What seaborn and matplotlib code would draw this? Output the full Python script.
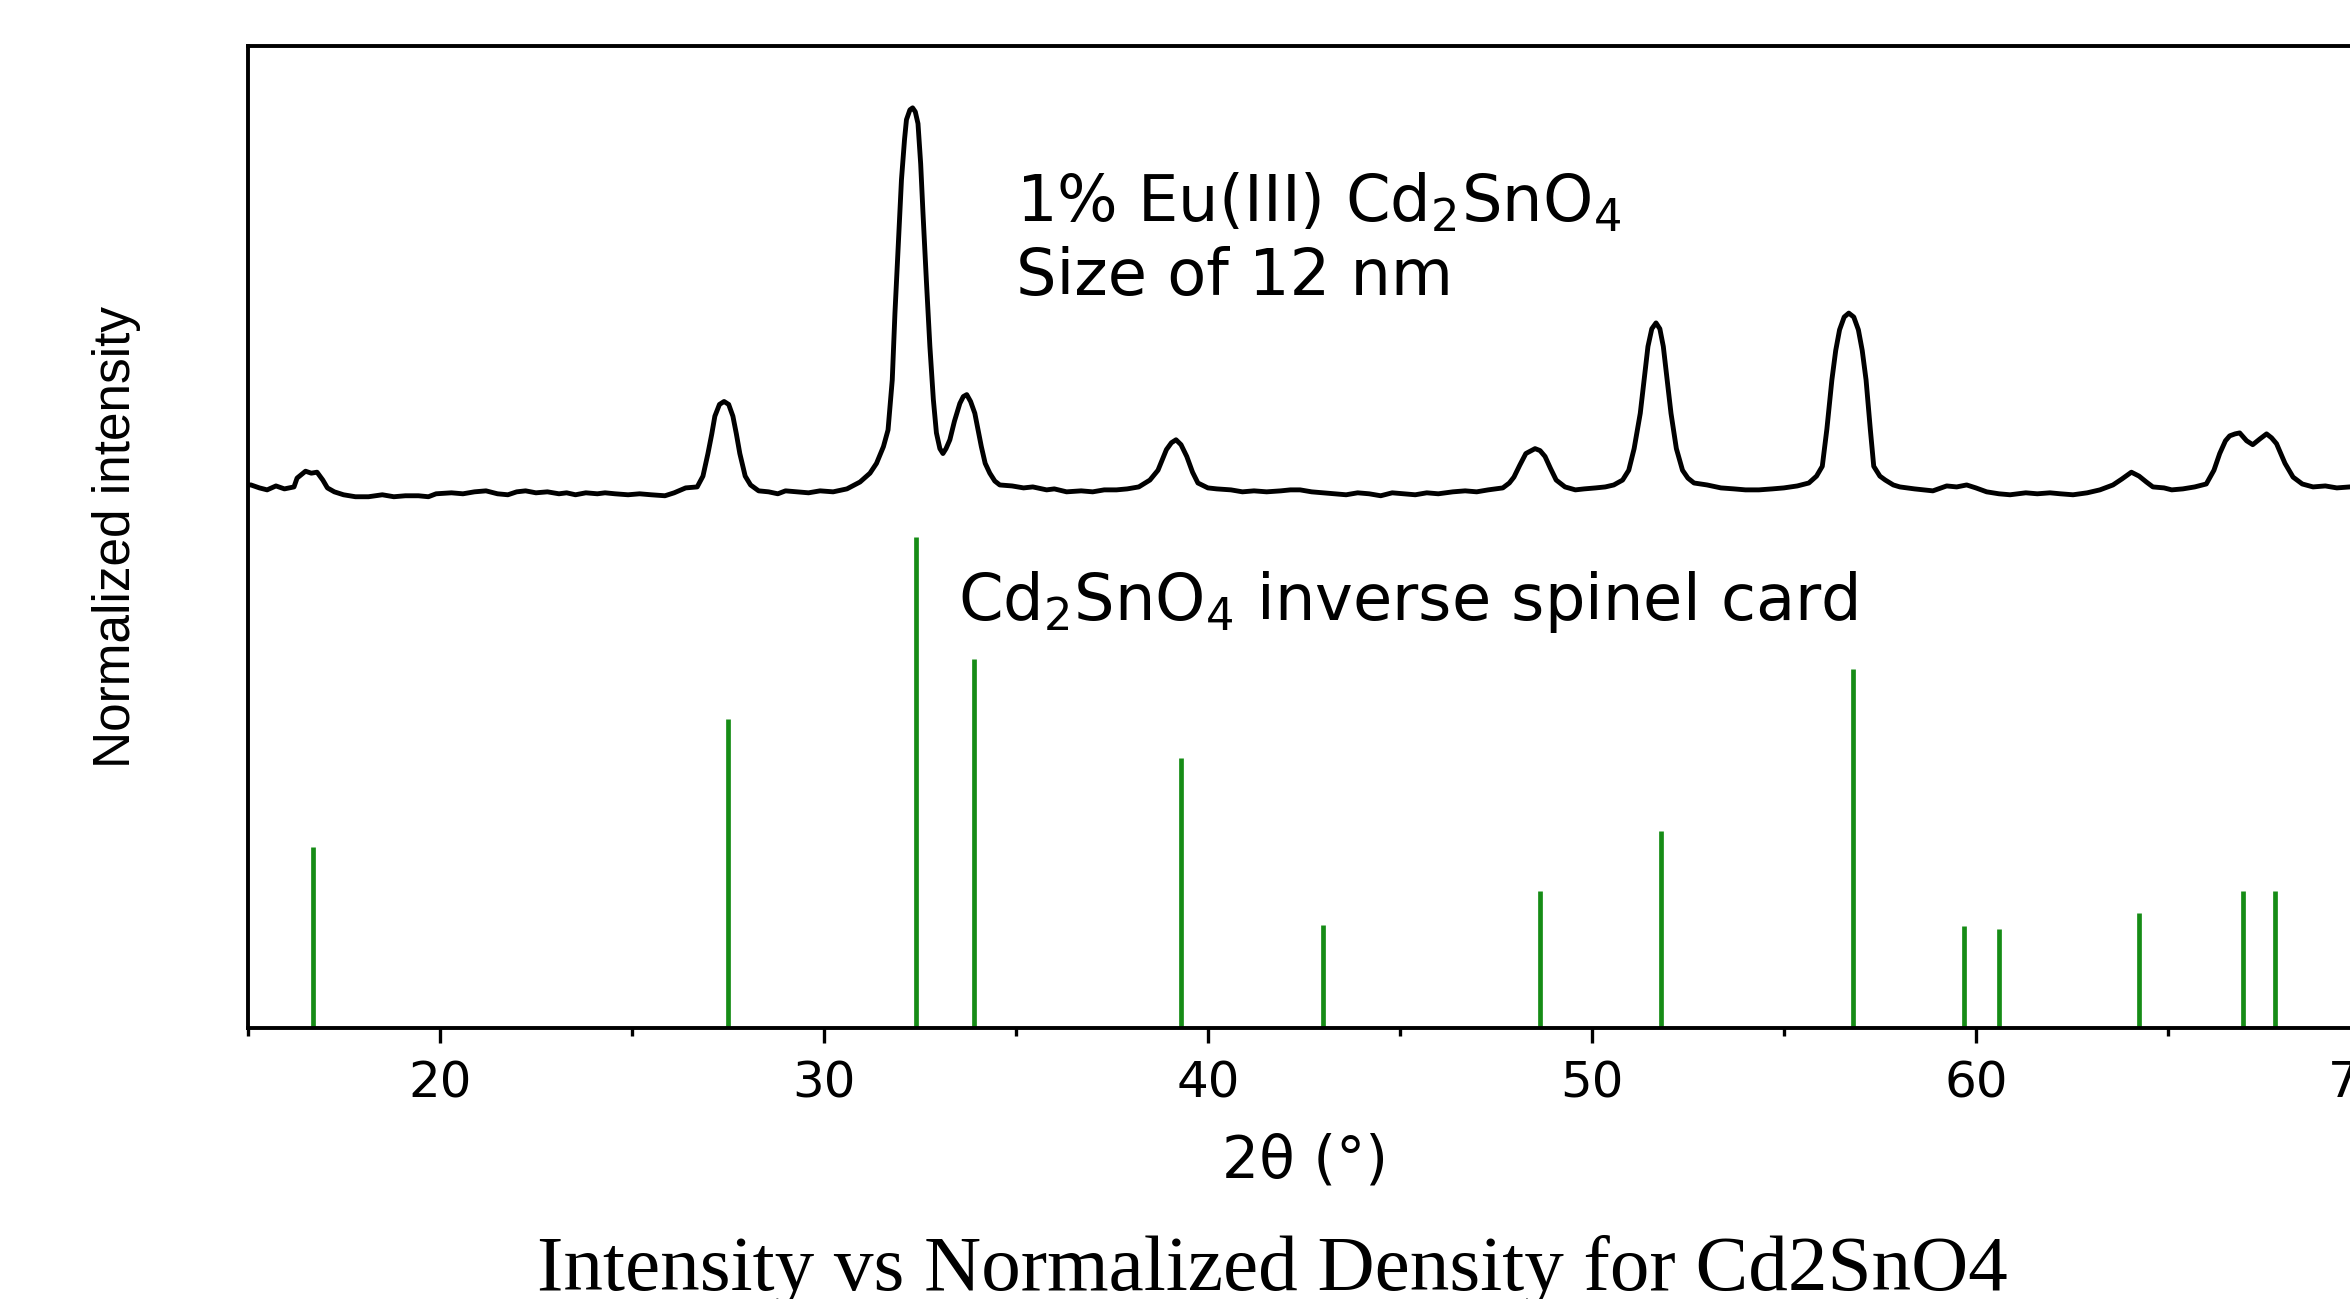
import matplotlib
matplotlib.use('Agg')
import matplotlib.pyplot as plt
from matplotlib.ticker import MultipleLocator
import seaborn as sns

# XRD pattern of 1% Eu(III) Cd2SnO4 (normalized units)
two_theta = [15.0, 15.08, 15.3, 15.5, 15.73, 15.95, 16.2, 16.28, 16.5, 16.65, 16.8, 16.95,
             17.07, 17.25, 17.49, 17.8, 18.14, 18.5, 18.8, 19.1, 19.44, 19.7, 19.9, 20.3,
             20.6, 20.9, 21.2, 21.5, 21.77, 22.0, 22.23, 22.5, 22.8, 23.1, 23.3, 23.53,
             23.8, 24.1, 24.3, 24.56, 24.9, 25.2, 25.5, 25.86, 26.1, 26.4, 26.7, 26.85,
             26.98, 27.08, 27.16, 27.28, 27.4, 27.52, 27.63, 27.72, 27.81, 27.95, 28.09, 28.3,
             28.56, 28.8, 29.0, 29.3, 29.6, 29.9, 30.24, 30.6, 30.94, 31.2, 31.37, 31.55,
             31.67, 31.78, 31.85, 31.94, 32.02, 32.1, 32.15, 32.24, 32.31, 32.38, 32.45, 32.52,
             32.58, 32.67, 32.76, 32.85, 32.93, 33.02, 33.1, 33.18, 33.28, 33.4, 33.54, 33.63,
             33.72, 33.82, 33.93, 34.02, 34.1, 34.2, 34.32, 34.45, 34.58, 34.9, 35.2, 35.44,
             35.8, 36.0, 36.32, 36.7, 37.0, 37.3, 37.62, 37.9, 38.2, 38.49, 38.7, 38.92,
             39.05, 39.17, 39.3, 39.45, 39.6, 39.74, 40.0, 40.23, 40.6, 40.9, 41.2, 41.53,
             41.9, 42.15, 42.4, 42.7, 43.0, 43.3, 43.6, 43.9, 44.2, 44.5, 44.8, 45.1,
             45.4, 45.7, 46.0, 46.38, 46.7, 47.0, 47.3, 47.68, 47.85, 47.97, 48.12, 48.28,
             48.52, 48.65, 48.78, 48.92, 49.07, 49.3, 49.57, 49.8, 50.1, 50.35, 50.57, 50.8,
             50.96, 51.1, 51.26, 51.36, 51.46, 51.56, 51.67, 51.77, 51.86, 51.96, 52.06, 52.2,
             52.36, 52.5, 52.66, 53.0, 53.36, 53.7, 54.0, 54.35, 54.7, 55.0, 55.35, 55.65,
             55.85, 56.0, 56.12, 56.25, 56.35, 56.45, 56.57, 56.69, 56.82, 56.94, 57.04, 57.14,
             57.25, 57.34, 57.5, 57.64, 57.85, 58.02, 58.4, 58.88, 59.24, 59.5, 59.76, 60.0,
             60.28, 60.6, 60.89, 61.3, 61.6, 61.93, 62.2, 62.53, 62.9, 63.23, 63.57, 63.8,
             64.05, 64.25, 64.44, 64.61, 64.9, 65.1, 65.39, 65.7, 66.0, 66.2, 66.35, 66.5,
             66.61, 66.75, 66.87, 67.05, 67.21, 67.4, 67.57, 67.7, 67.83, 68.05, 68.26, 68.5,
             68.78, 69.1, 69.4, 69.74, 70.2]
intensity = [0.553, 0.553, 0.550, 0.548, 0.552, 0.549, 0.551, 0.560, 0.567, 0.565, 0.566, 0.558,
             0.550, 0.546, 0.543, 0.541, 0.541, 0.543, 0.541, 0.542, 0.542, 0.541, 0.544, 0.545,
             0.544, 0.546, 0.547, 0.544, 0.543, 0.546, 0.547, 0.545, 0.546, 0.544, 0.545, 0.543,
             0.545, 0.544, 0.545, 0.544, 0.543, 0.544, 0.543, 0.542, 0.545, 0.550, 0.551, 0.562,
             0.585, 0.605, 0.623, 0.635, 0.638, 0.635, 0.623, 0.605, 0.585, 0.562, 0.553, 0.547,
             0.546, 0.544, 0.547, 0.546, 0.545, 0.547, 0.546, 0.549, 0.556, 0.565, 0.575, 0.592,
             0.609, 0.660, 0.728, 0.800, 0.864, 0.905, 0.925, 0.935, 0.937, 0.933, 0.921, 0.880,
             0.830, 0.760, 0.694, 0.640, 0.606, 0.590, 0.585, 0.590, 0.599, 0.618, 0.636, 0.643,
             0.645, 0.638, 0.626, 0.608, 0.592, 0.575, 0.565, 0.557, 0.553, 0.552, 0.550, 0.551,
             0.548, 0.549, 0.546, 0.547, 0.546, 0.548, 0.548, 0.549, 0.551, 0.558, 0.568, 0.589,
             0.596, 0.599, 0.594, 0.582, 0.566, 0.555, 0.550, 0.549, 0.548, 0.546, 0.547, 0.546,
             0.547, 0.548, 0.548, 0.546, 0.545, 0.544, 0.543, 0.545, 0.544, 0.542, 0.545, 0.544,
             0.543, 0.545, 0.544, 0.546, 0.547, 0.546, 0.548, 0.550, 0.555, 0.561, 0.573, 0.585,
             0.590, 0.588, 0.582, 0.570, 0.558, 0.551, 0.548, 0.549, 0.550, 0.551, 0.553, 0.558,
             0.568, 0.590, 0.626, 0.660, 0.694, 0.712, 0.718, 0.712, 0.694, 0.660, 0.626, 0.590,
             0.568, 0.560, 0.555, 0.553, 0.550, 0.549, 0.548, 0.548, 0.549, 0.550, 0.552, 0.555,
             0.562, 0.572, 0.610, 0.660, 0.690, 0.711, 0.724, 0.728, 0.724, 0.711, 0.690, 0.660,
             0.610, 0.572, 0.562, 0.558, 0.553, 0.551, 0.549, 0.547, 0.552, 0.551, 0.553, 0.550,
             0.546, 0.544, 0.543, 0.545, 0.544, 0.545, 0.544, 0.543, 0.545, 0.548, 0.553, 0.559,
             0.566, 0.562, 0.556, 0.551, 0.550, 0.548, 0.549, 0.551, 0.554, 0.568, 0.585, 0.598,
             0.603, 0.605, 0.606, 0.598, 0.594, 0.600, 0.605, 0.601, 0.595, 0.575, 0.561, 0.554,
             0.551, 0.552, 0.550, 0.551, 0.550]

# Cd2SnO4 inverse spinel reference card (stick positions / relative heights)
card_pos = [16.7, 27.5, 32.4, 33.9, 39.3, 43.0, 48.65, 51.8, 56.8, 59.7, 60.6, 64.25, 66.95, 67.8]
card_int = [0.184, 0.315, 0.500, 0.376, 0.275, 0.105, 0.140, 0.201, 0.366, 0.104, 0.101, 0.117,
            0.140, 0.140]

x_ticks = [20, 30, 40, 50, 60, 70]

sns.set_theme(style='ticks')
plt.rcParams['font.family'] = ['DejaVu Sans']
plt.rcParams['mathtext.default'] = 'regular'
plt.rcParams['text.color'] = 'black'
plt.rcParams['axes.labelcolor'] = 'black'

fig = plt.figure(figsize=(23.5, 12.99), dpi=100)
# axes run past the right edge of the picture, like the cropped original
ax = fig.add_axes([0.1055, 0.2086, 0.9804, 0.7560])

sns.lineplot(x=two_theta, y=intensity, ax=ax, color='black', linewidth=3.5,
             sort=False, estimator=None)
ax.vlines(card_pos, 0, card_int, color='#168c16', linewidth=3.4)

ax.set_xlim(15, 75)
ax.set_ylim(0, 1)
ax.set_xticks(x_ticks)
ax.xaxis.set_minor_locator(MultipleLocator(5))
ax.set_yticks([])

for side in ['left', 'bottom', 'top', 'right']:
    ax.spines[side].set_linewidth(2.8)
    ax.spines[side].set_color('black')

ax.tick_params(axis='x', which='major', direction='out', length=11, width=2.4,
               pad=12, labelsize=36, colors='black')
ax.tick_params(axis='x', which='minor', direction='out', length=5.5, width=2.4,
               colors='black')

ax.set_xlabel('2θ (°)', fontsize=42, va='center')
ax.xaxis.set_label_coords(0.4588, -0.1354)
ax.set_ylabel('Normalized intensity', fontsize=37, va='center',
              family=['Liberation Sans'])
ax.yaxis.set_label_coords(-0.0569, 0.5)

ax.text(35.0, 0.821, '1% Eu(III) Cd$_2$SnO$_4$', fontsize=46, va='baseline')
ax.text(35.0, 0.746, 'Size of 12 nm', fontsize=46, va='baseline')
ax.text(33.48, 0.415, 'Cd$_2$SnO$_4$ inverse spinel card', fontsize=46, va='baseline')

fig.text(0.5415, 0.0069, 'Intensity vs Normalized Density for Cd2SnO4',
         fontsize=57, family=['Liberation Serif'], ha='center', va='baseline')

fig.savefig('out.png', dpi=100)
